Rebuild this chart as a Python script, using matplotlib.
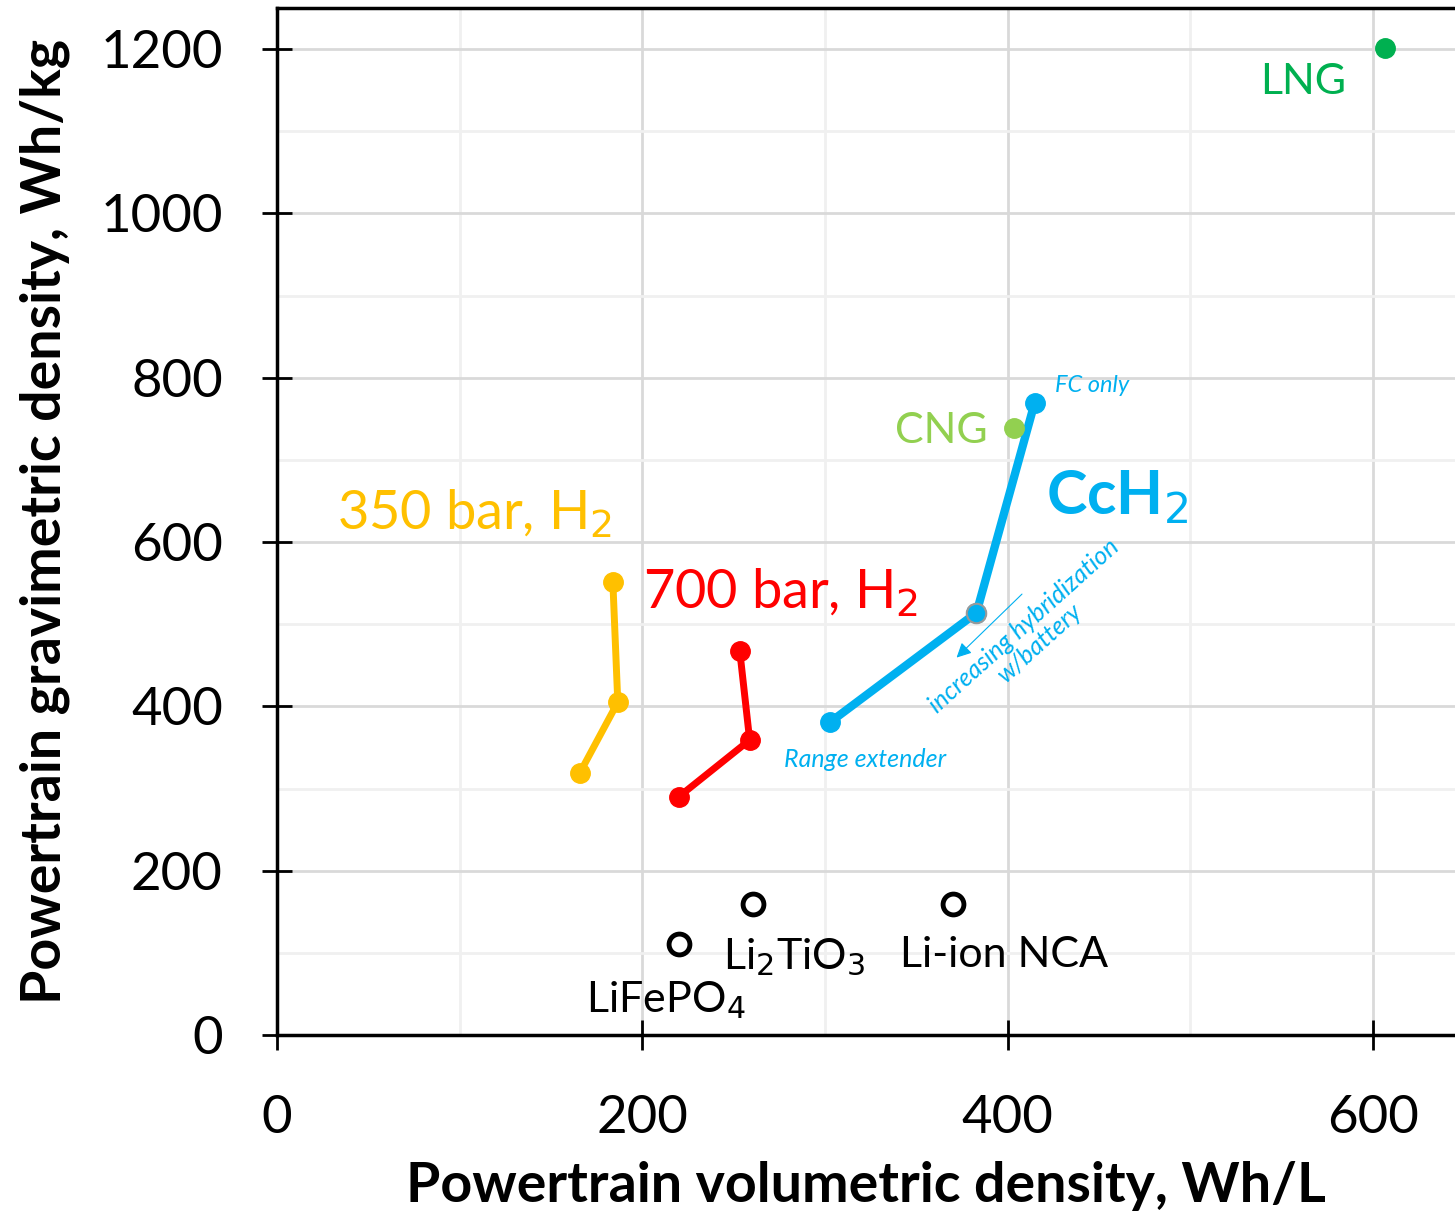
import numpy as np
import matplotlib.pyplot as plt
from matplotlib.ticker import MultipleLocator

plt.rcParams['font.family'] = ['Lato', 'DejaVu Sans']

# hydrogen storage lines (Wh/L, Wh/kg)
h350_x = [183.9, 186.6, 165.8]
h350_y = [551, 405, 319]
h700_x = [253.4, 258.8, 220.0]
h700_y = [467, 359, 290]
cch2_x = [414.8, 383.0, 303.0]
cch2_y = [769, 514, 381]

# single points
cng = (403.8, 739)
lng = (606.8, 1201)
bat_names = ['LiFePO$_4$', 'Li$_2$TiO$_3$', 'Li-ion NCA']
bat_x = [220.0, 260.5, 370.0]
bat_y = [111, 159, 159]

yellow = '#FFC000'
red = '#FF0000'
blue = '#00B0F0'

fig = plt.figure(figsize=(14.55, 12.21), dpi=100)
ax = fig.add_axes([277/1455, 186/1221, 1 - 277/1455, 1027/1221])
ax.set_xlim(0, 645)
ax.set_ylim(0, 1250)

ax.xaxis.set_major_locator(MultipleLocator(200))
ax.xaxis.set_minor_locator(MultipleLocator(100))
ax.yaxis.set_major_locator(MultipleLocator(200))
ax.yaxis.set_minor_locator(MultipleLocator(100))
ax.grid(which='major', color='#d9d9d9', lw=2)
ax.grid(which='minor', color='#f0f0f0', lw=2)
ax.set_axisbelow(True)

for s in ['left', 'bottom', 'top']:
    ax.spines[s].set_linewidth(2.5)
ax.spines['right'].set_visible(False)
ax.tick_params(which='major', direction='inout', length=22, width=2,
               labelsize=38)
ax.tick_params(which='minor', length=0)
ax.tick_params(axis='x', pad=32)
ax.tick_params(axis='y', pad=28)

ax.set_xlabel('Powertrain volumetric density, Wh/L', fontsize=40,
              fontweight='bold', labelpad=14)
ax.set_ylabel('Powertrain gravimetric density, Wh/kg', fontsize=40,
              fontweight='bold', labelpad=22)

ms = 14
ax.plot(h350_x, h350_y, '-o', color=yellow, lw=5, ms=ms)
ax.plot(h700_x, h700_y, '-o', color=red, lw=5, ms=ms)
ax.plot(cch2_x, cch2_y, '-', color=blue, lw=6)
ax.plot(cch2_x, cch2_y, 'o', color=blue, ms=ms)
ax.plot([cch2_x[1]], [cch2_y[1]], 'o', color=blue, ms=ms, mec='#999999', mew=1.5)
ax.plot([cng[0]], [cng[1]], 'o', color='#92D050', ms=ms)
ax.plot([lng[0]], [lng[1]], 'o', color='#00B050', ms=ms)
ax.plot(bat_x, bat_y, 'o', mfc='white', mec='black', mew=3.5, ms=15)

ax.text(108, 634, '350 bar, H$_2$', color=yellow, fontsize=39, ha='center', va='center')
ax.text(276, 539, '700 bar, H$_2$', color=red, fontsize=39, ha='center', va='center')
ax.text(460, 655, 'CcH$_2$', color=blue, fontsize=44, fontweight='bold',
        ha='center', va='center')
ax.text(364, 735, 'CNG', color='#92D050', fontsize=31, ha='center', va='center')
ax.text(562, 1160, 'LNG', color='#00B050', fontsize=31, ha='center', va='center')

ax.text(426, 790, 'FC only', color=blue, fontsize=17, style='italic', va='center')
ax.text(322, 335, 'Range extender', color=blue, fontsize=18, style='italic',
        ha='center', va='center')
ax.text(413, 487, 'increasing hybridization\nw/battery', color=blue, fontsize=18,
        style='italic', rotation=42, ha='center', va='center', multialignment='center',
        linespacing=1.0)
ax.annotate('', xy=(371, 457), xytext=(409, 539),
            arrowprops=dict(arrowstyle='-|>', color=blue, lw=0.8, mutation_scale=22))

ax.text(213, 42, bat_names[0], fontsize=31, ha='center', va='center')
ax.text(283, 95, bat_names[1], fontsize=31, ha='center', va='center')
ax.text(398, 97, bat_names[2], fontsize=31, ha='center', va='center')

fig.savefig('out.png', dpi=100)
